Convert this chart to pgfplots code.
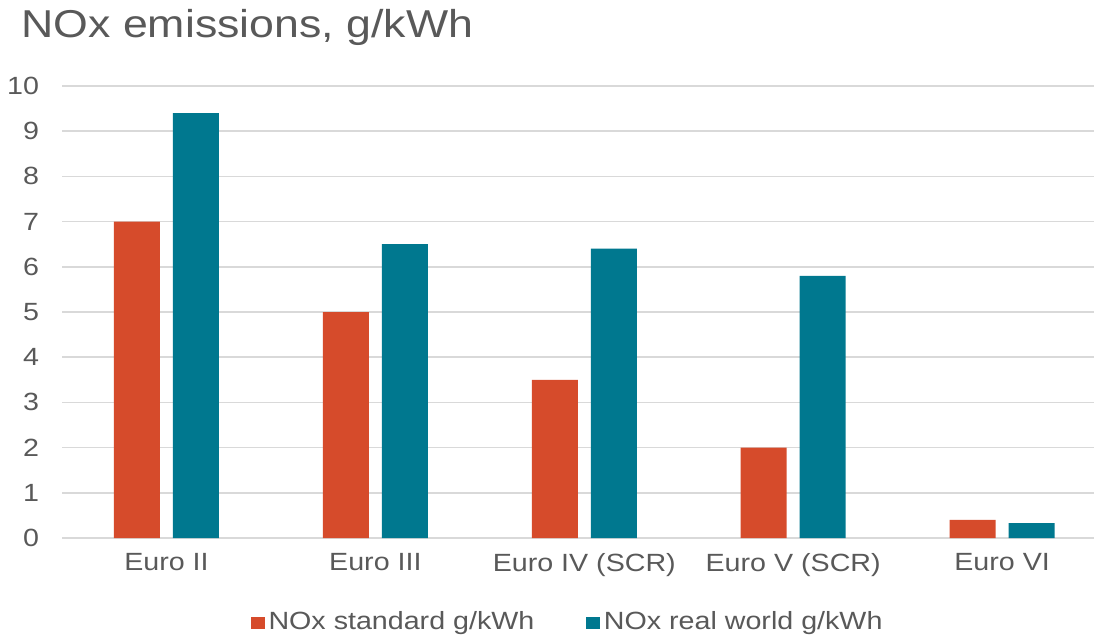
\documentclass[border=0pt]{standalone}
\usepackage{pgfplots}
\pgfplotsset{compat=1.18}
\usepackage{fontspec}
\setmainfont[FakeStretch=1.15]{Liberation Sans}
\definecolor{nred}{HTML}{D64B2B}
\definecolor{nteal}{HTML}{00788F}
\definecolor{txt}{HTML}{595959}
\definecolor{gridc}{HTML}{D9D9D9}

\begin{document}
\begin{tikzpicture}
\path[use as bounding box] (-31bp,-50bp) rectangle (516bp,269bp);
\node[anchor=base west, text=txt, font=\fontsize{19.5}{22}\selectfont, inner sep=0pt]
  at (-20.5bp,250bp) {NOx emissions, g/kWh};
\begin{axis}[
  scale only axis, width=516bp, height=226bp,
  xmin=-0.5, xmax=4.44, ymin=0, ymax=10,
  ytick={0,1,...,10}, xtick={0,1,2,3,4},
  xticklabels={Euro II, Euro III, Euro IV (SCR), Euro V (SCR), Euro VI},
  axis line style={draw=none},
  major tick length=0pt,
  ymajorgrids, grid style={gridc, line width=0.8bp},
  ybar=6.5bp, bar width=23bp,
  tick label style={font=\fontsize{12.5}{14}\selectfont, text=txt},
  /pgf/number format/assume math mode=true,
  yticklabel style={xshift=-8bp},
  xticklabel style={yshift=-4bp},
  legend style={draw=none, at={(0.491,0)}, anchor=center, yshift=-42bp,
    font=\fontsize{12.5}{14}\selectfont, text=txt,
    /tikz/every even column/.append style={column sep=24bp}},
  legend columns=2,
  legend image code/.code={\fill[#1] (0bp,-3.4bp) rectangle (6.8bp,2.6bp);},
]
\addplot[fill=nred, draw=none] coordinates {(0,7) (1,5) (2,3.5) (3,2) (4,0.4)};
\addplot[fill=nteal, draw=none] coordinates {(0,9.4) (1,6.5) (2,6.4) (3,5.8) (4,0.33)};
\legend{NOx standard g/kWh, NOx real world g/kWh}
\end{axis}
\end{tikzpicture}
\end{document}
